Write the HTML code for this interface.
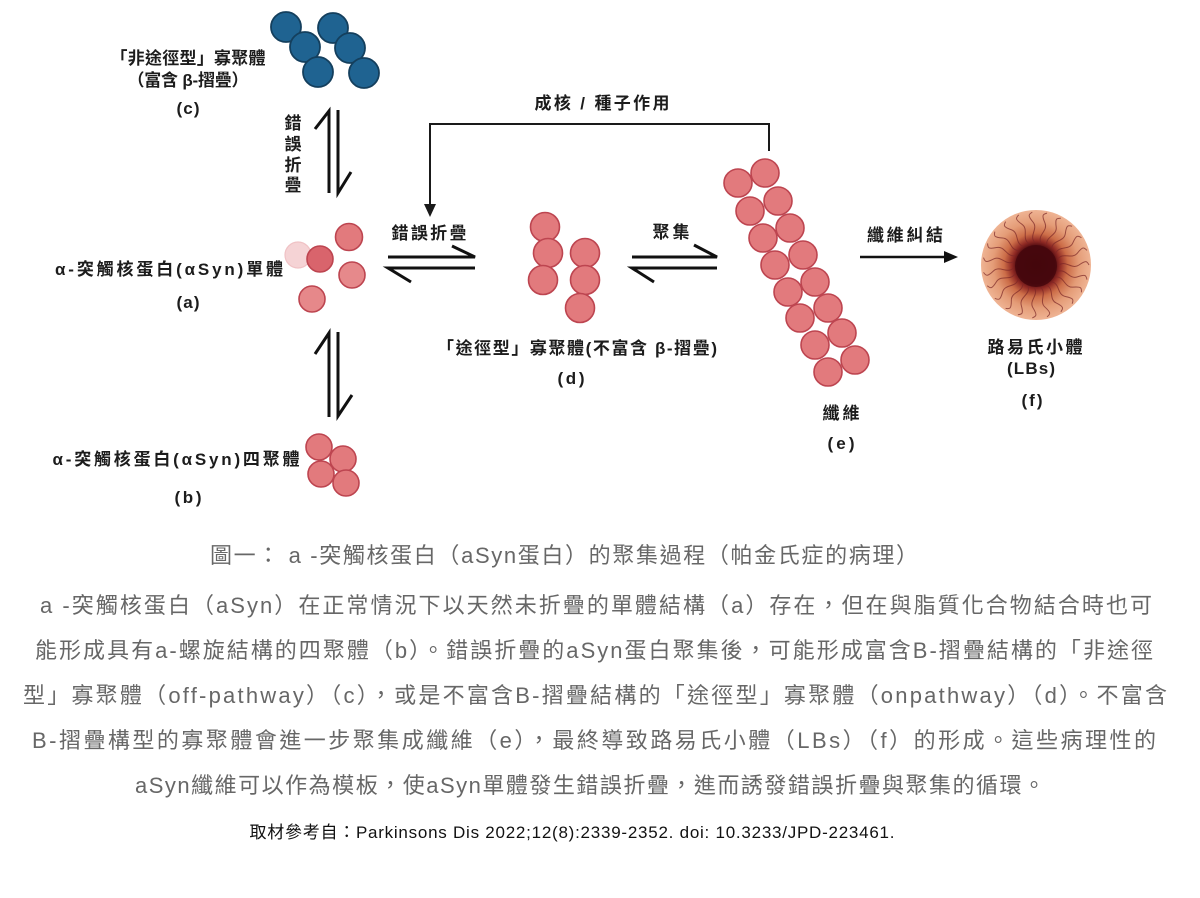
<!DOCTYPE html>
<html><head><meta charset="utf-8"><style>
html,body{margin:0;padding:0;background:#fff;}
svg{display:block;}
.lab{font-family:"Liberation Sans","Noto Sans CJK TC",sans-serif;font-weight:bold;font-size:17px;fill:#1c1c1c;}
.par{font-family:"Liberation Sans","Noto Sans CJK TC",sans-serif;font-size:22px;fill:#676767;}
.src{font-family:"Liberation Sans","Noto Sans CJK TC",sans-serif;font-size:17px;fill:#111;}
.r{fill:#e27a7d;stroke:#bd4550;stroke-width:1.6;}
.b{fill:#1f6391;stroke:#143f5d;stroke-width:1.8;}
.ln{stroke:#111;stroke-width:3;fill:none;stroke-linecap:butt;}
</style></head><body>
<svg width="1200" height="898" viewBox="0 0 1200 898" xmlns="http://www.w3.org/2000/svg">
<defs>
<radialGradient id="lb" cx="0.5" cy="0.5" r="0.5">
<stop offset="0" stop-color="#3e050b"/>
<stop offset="0.34" stop-color="#4e0a10"/>
<stop offset="0.44" stop-color="#902a24"/>
<stop offset="0.58" stop-color="#cc6d48"/>
<stop offset="0.78" stop-color="#e49c77"/>
<stop offset="1" stop-color="#efb494"/>
</radialGradient>
<path id="wv" d="M23 0 C30 -5,36 5,43 0 S51 -4,53 0" fill="none" stroke="#7a2626" stroke-width="1" opacity="0.7"/>
</defs>

<!-- (c) blue oligomer -->
<circle class="b" cx="286" cy="27" r="15"/>
<circle class="b" cx="305" cy="47" r="15"/>
<circle class="b" cx="318" cy="72" r="15"/>
<circle class="b" cx="333" cy="28" r="15"/>
<circle class="b" cx="350" cy="48" r="15"/>
<circle class="b" cx="364" cy="73" r="15"/>
<text class="lab" x="188" y="64" text-anchor="middle" textLength="155" lengthAdjust="spacing">「非途徑型」寡聚體</text>
<text class="lab" x="188" y="86" text-anchor="middle" textLength="121" lengthAdjust="spacing">（富含 β-摺疊）</text>
<text class="lab" x="188" y="114" text-anchor="middle" textLength="23" lengthAdjust="spacing">(c)</text>

<!-- vertical arrows c<->a -->
<path class="ln" d="M329 193 L329 111 L315 129"/>
<path class="ln" d="M338 110 L338 193 L351 172"/>
<text class="lab" x="293" y="129" text-anchor="middle">錯</text>
<text class="lab" x="293" y="150" text-anchor="middle">誤</text>
<text class="lab" x="293" y="171" text-anchor="middle">折</text>
<text class="lab" x="293" y="191" text-anchor="middle">疊</text>

<!-- (a) monomers -->
<circle cx="298" cy="255" r="13" fill="#f5d3d5" stroke="#f0c2c5" stroke-width="1.2"/>
<circle class="r" cx="320" cy="259" r="13" style="fill:#d9646c"/>
<circle class="r" cx="349" cy="237" r="13.5"/>
<circle class="r" cx="352" cy="275" r="13" style="fill:#e6898b"/>
<circle class="r" cx="312" cy="299" r="13" style="fill:#e6888a"/>
<text class="lab" x="169" y="275" text-anchor="middle" textLength="228" lengthAdjust="spacing">α-突觸核蛋白(αSyn)單體</text>
<text class="lab" x="188" y="308" text-anchor="middle" textLength="23" lengthAdjust="spacing">(a)</text>

<!-- vertical arrows a<->b -->
<path class="ln" d="M329 417 L329 333 L315 354"/>
<path class="ln" d="M338 332 L338 416 L352 395"/>

<!-- (b) tetramer -->
<circle class="r" cx="319" cy="447" r="13"/>
<circle class="r" cx="343" cy="459" r="13"/>
<circle class="r" cx="321" cy="474" r="13"/>
<circle class="r" cx="346" cy="483" r="13"/>
<text class="lab" x="176" y="465" text-anchor="middle" textLength="247" lengthAdjust="spacing">α-突觸核蛋白(αSyn)四聚體</text>
<text class="lab" x="188" y="503" text-anchor="middle" textLength="27" lengthAdjust="spacing">(b)</text>

<!-- feedback arrow -->
<text class="lab" x="602" y="109" text-anchor="middle" textLength="135" lengthAdjust="spacing">成核 / 種子作用</text>
<path d="M769 151 L769 124 L430 124 L430 206" fill="none" stroke="#1a1a1a" stroke-width="2"/>
<path d="M424 204 L436 204 L430 217 Z" fill="#1a1a1a"/>

<!-- eq arrows a<->d -->
<text class="lab" x="429" y="239" text-anchor="middle" textLength="75" lengthAdjust="spacing">錯誤折疊</text>
<path class="ln" d="M388 257 L475 257 L452 246"/>
<path class="ln" d="M475 268 L388 268 L411 282"/>

<!-- (d) on-pathway oligomer -->
<circle class="r" cx="545" cy="227" r="14.5"/>
<circle class="r" cx="548" cy="253" r="14.5"/>
<circle class="r" cx="543" cy="280" r="14.5"/>
<circle class="r" cx="585" cy="253" r="14.5"/>
<circle class="r" cx="585" cy="280" r="14.5"/>
<circle class="r" cx="580" cy="308" r="14.5"/>
<text class="lab" x="577" y="354" text-anchor="middle" textLength="280" lengthAdjust="spacing">「途徑型」寡聚體(不富含 β-摺疊)</text>
<text class="lab" x="571" y="384" text-anchor="middle" textLength="27" lengthAdjust="spacing">(d)</text>

<!-- eq arrows d<->e -->
<text class="lab" x="671" y="238" text-anchor="middle" textLength="37" lengthAdjust="spacing">聚集</text>
<path class="ln" d="M632 257 L717 257 L694 245"/>
<path class="ln" d="M717 268 L632 268 L654 282"/>

<!-- (e) fibril -->
<circle class="r" cx="738" cy="183" r="14"/>
<circle class="r" cx="765" cy="173" r="14"/>
<circle class="r" cx="750" cy="211" r="14"/>
<circle class="r" cx="778" cy="201" r="14"/>
<circle class="r" cx="763" cy="238" r="14"/>
<circle class="r" cx="790" cy="228" r="14"/>
<circle class="r" cx="775" cy="265" r="14"/>
<circle class="r" cx="803" cy="255" r="14"/>
<circle class="r" cx="788" cy="292" r="14"/>
<circle class="r" cx="815" cy="282" r="14"/>
<circle class="r" cx="800" cy="318" r="14"/>
<circle class="r" cx="828" cy="308" r="14"/>
<circle class="r" cx="815" cy="345" r="14"/>
<circle class="r" cx="842" cy="333" r="14"/>
<circle class="r" cx="828" cy="372" r="14"/>
<circle class="r" cx="855" cy="360" r="14"/>
<text class="lab" x="841" y="419" text-anchor="middle" textLength="37" lengthAdjust="spacing">纖維</text>
<text class="lab" x="841" y="449" text-anchor="middle" textLength="27" lengthAdjust="spacing">(e)</text>

<!-- arrow to LB -->
<text class="lab" x="905" y="241" text-anchor="middle" textLength="76" lengthAdjust="spacing">纖維糾結</text>
<path d="M860 257 L946 257" stroke="#111" stroke-width="2.5"/>
<path d="M944 251 L958 257 L944 263 Z" fill="#111"/>

<!-- (f) Lewy body -->
<circle cx="1036" cy="265" r="55" fill="url(#lb)"/>
<g transform="translate(1036,265)">
<use href="#wv" transform="rotate(0)"/><use href="#wv" transform="rotate(16)"/>
<use href="#wv" transform="rotate(31)"/><use href="#wv" transform="rotate(47)"/>
<use href="#wv" transform="rotate(62)"/><use href="#wv" transform="rotate(78)"/>
<use href="#wv" transform="rotate(94)"/><use href="#wv" transform="rotate(110)"/>
<use href="#wv" transform="rotate(125)"/><use href="#wv" transform="rotate(141)"/>
<use href="#wv" transform="rotate(157)"/><use href="#wv" transform="rotate(172)"/>
<use href="#wv" transform="rotate(188)"/><use href="#wv" transform="rotate(204)"/>
<use href="#wv" transform="rotate(219)"/><use href="#wv" transform="rotate(235)"/>
<use href="#wv" transform="rotate(251)"/><use href="#wv" transform="rotate(266)"/>
<use href="#wv" transform="rotate(282)"/><use href="#wv" transform="rotate(298)"/>
<use href="#wv" transform="rotate(313)"/><use href="#wv" transform="rotate(329)"/>
<use href="#wv" transform="rotate(344)"/>
</g>
<circle cx="1036" cy="266" r="21" fill="#45070d" opacity="0.85"/>
<text class="lab" x="1035" y="353" text-anchor="middle" textLength="95" lengthAdjust="spacing">路易氏小體</text>
<text class="lab" x="1031" y="374" text-anchor="middle" textLength="48" lengthAdjust="spacing">(LBs)</text>
<text class="lab" x="1032" y="406" text-anchor="middle" textLength="21" lengthAdjust="spacing">(f)</text>

<!-- caption -->
<text class="par" x="564" y="563" text-anchor="middle" textLength="708" lengthAdjust="spacing">圖一： a -突觸核蛋白（aSyn蛋白）的聚集過程（帕金氏症的病理）</text>
<text class="par" x="596" y="613" text-anchor="middle" textLength="1112" lengthAdjust="spacing">a -突觸核蛋白（aSyn）在正常情況下以天然未折疊的單體結構（a）存在，但在與脂質化合物結合時也可</text>
<text class="par" x="594" y="658" text-anchor="middle" textLength="1118" lengthAdjust="spacing">能形成具有a-螺旋結構的四聚體（b）。錯誤折疊的aSyn蛋白聚集後，可能形成富含B-摺疊結構的「非途徑</text>
<text class="par" x="595" y="703" text-anchor="middle" textLength="1144" lengthAdjust="spacing">型」寡聚體（off-pathway）（c），或是不富含B-摺疊結構的「途徑型」寡聚體（onpathway）（d）。不富含</text>
<text class="par" x="594" y="748" text-anchor="middle" textLength="1124" lengthAdjust="spacing">B-摺疊構型的寡聚體會進一步聚集成纖維（e），最終導致路易氏小體（LBs）（f）的形成。這些病理性的</text>
<text class="par" x="590" y="793" text-anchor="middle" textLength="910" lengthAdjust="spacing">aSyn纖維可以作為模板，使aSyn單體發生錯誤折疊，進而誘發錯誤折疊與聚集的循環。</text>
<text class="src" x="572" y="838" text-anchor="middle" textLength="645" lengthAdjust="spacing">取材參考自：Parkinsons Dis 2022;12(8):2339-2352. doi: 10.3233/JPD-223461.</text>
</svg>
</body></html>
